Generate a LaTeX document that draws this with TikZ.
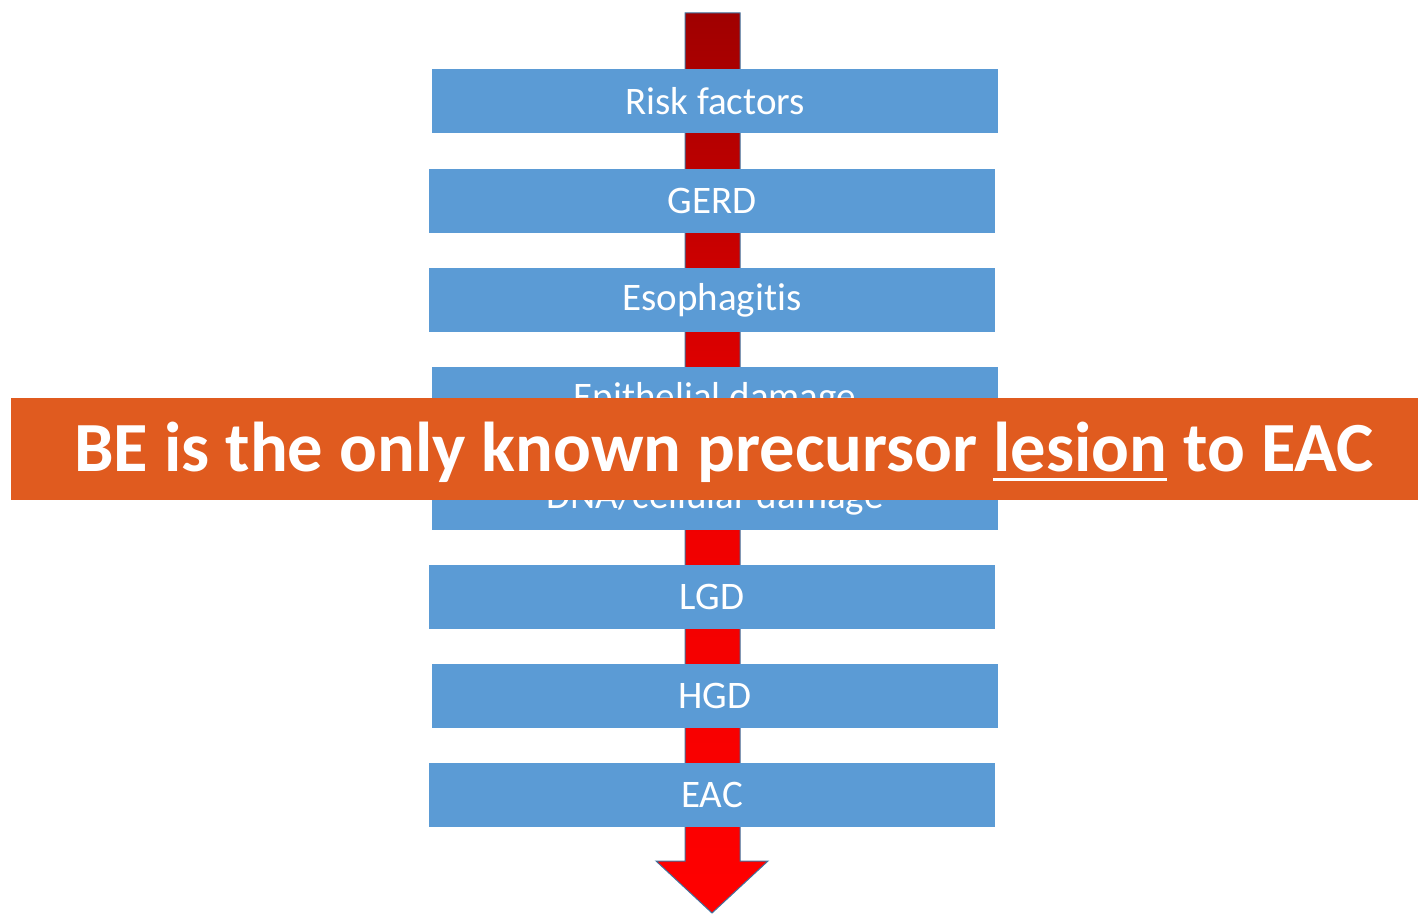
\documentclass[tikz,border=0pt]{standalone}
\usepackage{fontspec}
\setmainfont{Carlito}[Ligatures=NoCommon]
\definecolor{boxblue}{HTML}{5B9BD5}
\definecolor{bannerorange}{HTML}{E05B1F}
\definecolor{edgeblue}{HTML}{41719C}
\definecolor{darkred}{HTML}{A00000}
\definecolor{brightred}{HTML}{FF0000}
\newcommand{\myul}[1]{{\setbox0\hbox{#1}\rlap{\rule[-10pt]{\wd0}{3.5pt}}\box0}}
\begin{document}
\begin{tikzpicture}[x=1pt,y=-1pt,
  stagebox/.style={fill=boxblue, minimum width=566pt, minimum height=64pt, inner sep=0pt,
    text=white, font=\fontsize{39}{44}\selectfont},
  banner/.style={fill=bannerorange, minimum width=1407pt, minimum height=102pt, inner sep=0pt,
    text=white, font=\fontsize{70.5}{80}\selectfont\bfseries}]
\useasboundingbox (0,0) rectangle (1418,915);
% arrow
\path[draw=edgeblue, line width=1pt, top color=darkred, bottom color=brightred, middle color=brightred!82!darkred, shading angle=0]
  (685,13) -- (740,13) -- (740,861) -- (768,861) -- (712,913) -- (656,861) -- (685,861) -- cycle;
\node[stagebox] (b1) at (715,101) {Risk factors};
\node[stagebox] (b2) at (712,201) {GERD};
\node[stagebox] (b3) at (712,300) {Esophagitis};
\node[stagebox] (b4) at (715,399) {Epithelial damage};
\node[stagebox] (b5) at (715,498) {DNA/cellular damage};
\node[stagebox] (b6) at (712,597) {LGD};
\node[stagebox] (b7) at (715,696) {HGD};
\node[stagebox] (b8) at (712,795) {EAC};
\node[banner, text depth=0pt] (ban) at (714.5,449) {};
\node[text=white, font=\fontsize{70.5}{80}\selectfont\bfseries, anchor=base, inner sep=0pt] (bantext) at (724,471) {BE is the only known precursor \myul{lesion} to EAC};
\end{tikzpicture}
\end{document}
